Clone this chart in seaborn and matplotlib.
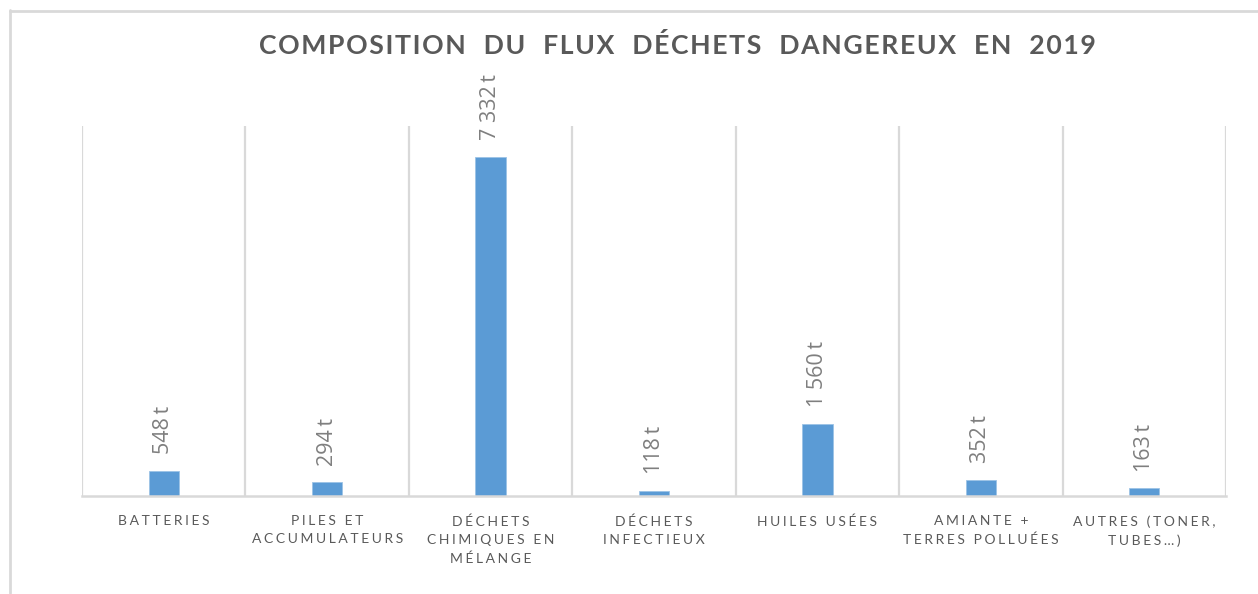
import matplotlib
matplotlib.use("Agg")
import matplotlib.pyplot as plt
from matplotlib.lines import Line2D
from matplotlib.ticker import FixedLocator
import seaborn as sns
import pandas as pd

# Tonnages of hazardous waste collected in 2019
categories = [
    "BATTERIES",
    "PILES ET\nACCUMULATEURS",
    "DÉCHETS\nCHIMIQUES EN\nMÉLANGE",
    "DÉCHETS\nINFECTIEUX",
    "HUILES USÉES",
    "AMIANTE +\nTERRES POLLUÉES",
    "AUTRES (TONER,\nTUBES…)",
]
tonnages = [548, 294, 7332, 118, 1560, 352, 163]
title = "COMPOSITION  DU  FLUX  DÉCHETS  DANGEREUX  EN  2019"

BAR = "#5b9bd5"
GRID = "#d9d9d9"
TEXT = "#595959"
LABEL = "#7f7f7f"


def spaced(s, gap="\u2009"):
    """Insert a thin space between letters to widen the tracking."""
    return "\n".join(gap.join(line) for line in s.split("\n"))


def fmt_tonnes(v):
    return f"{v:,}".replace(",", " ") + "\u2009t"


sns.set_theme(style="white")
plt.rcParams["font.family"] = ["Lato", "DejaVu Sans"]

fig = plt.figure(figsize=(12.58, 5.94), dpi=100)
W, H = 1258, 594
ax = fig.add_axes([82 / W, 1 - 496 / H, (1226 - 82) / W, (496 - 126) / H])

df = pd.DataFrame({"cat": categories, "t": tonnages})
sns.barplot(data=df, x="cat", y="t", color=BAR, width=0.185,
            edgecolor="#9cc3e6", linewidth=0.6, saturation=1, ax=ax)

ax.set_ylim(0, 8000)
ax.set_xlim(-0.5, len(categories) - 0.5)
ax.set_xlabel("")
ax.set_ylabel("")
ax.set_yticks([])

# vertical separators between categories
ax.xaxis.set_minor_locator(FixedLocator([i - 0.5 for i in range(len(categories) + 1)]))
ax.grid(False)
ax.grid(which="minor", axis="x", color=GRID, linewidth=1.6)
ax.tick_params(axis="x", which="both", length=0, pad=14)
ax.set_xticks(range(len(categories)))
ax.set_xticklabels([spaced(c, "\u2009\u200a") for c in categories], color=TEXT,
                   fontsize=10, linespacing=1.6, va="top")

for side in ("left", "right", "top"):
    ax.spines[side].set_visible(False)
ax.spines["bottom"].set_color(GRID)
ax.spines["bottom"].set_linewidth(1.8)

for i, v in enumerate(tonnages):
    ax.annotate(fmt_tonnes(v), (i, v), xytext=(0, 12), textcoords="offset points",
                rotation=90, ha="center", va="bottom", color=LABEL,
                fontsize=15.5, family=["Open Sans", "DejaVu Sans"])

fig.text(677 / W, 1 - 45 / H, spaced(title, "\u200a"), ha="center", va="center",
         color=TEXT, fontsize=19.2, fontweight="bold")

# chart-area frame
fig.add_artist(Line2D([10 / W, 10 / W], [1 - 10 / H, 1 - 593 / H],
                      transform=fig.transFigure, color=GRID, linewidth=2))
fig.add_artist(Line2D([10 / W, 1.0], [1 - 10.5 / H, 1 - 10.5 / H],
                      transform=fig.transFigure, color=GRID, linewidth=2))

fig.savefig("out.png", dpi=100, facecolor="white")
